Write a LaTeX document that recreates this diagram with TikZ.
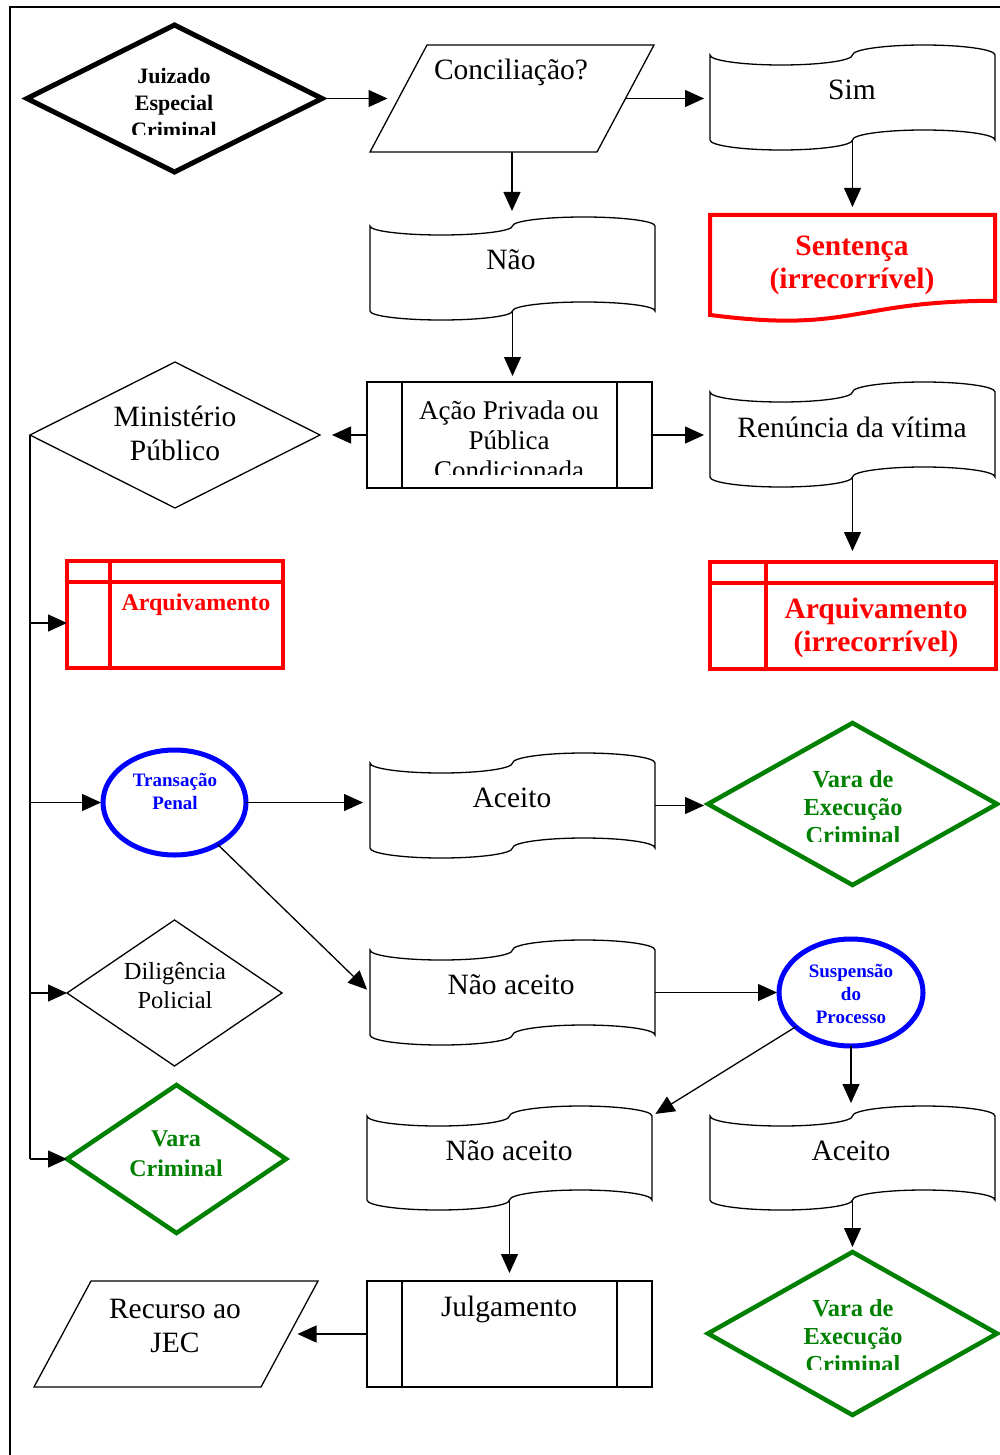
\documentclass[tikz,border=0pt]{standalone}
\usepackage{fontspec}
\setmainfont{Liberation Serif}
\usetikzlibrary{arrows.meta,shapes.geometric,calc}

\definecolor{flowred}{RGB}{255,0,0}
\definecolor{flowblue}{RGB}{0,0,255}
\definecolor{flowgreen}{RGB}{0,128,0}

\tikzset{
  every node/.style={inner sep=0pt, outer sep=0pt},
  thinline/.style={line width=1.3pt},
  box/.style={rectangle, draw=none},
  arr/.style={thinline, -{Triangle[length=19pt,width=17pt]}},
  procbox/.style={rectangle, draw, thinline},
  storebox/.style={rectangle, draw=flowred, line width=4pt},
  plaindiamond/.style={diamond, draw, thinline},
  greendiamond/.style={diamond, draw=flowgreen, line width=4.5pt},
  blueoval/.style={ellipse, draw=flowblue, line width=5pt},
  txt/.style={align=center, font=\fontsize{29.5}{34}\selectfont},
  txtsmall/.style={align=center, font=\fontsize{27}{30}\selectfont},
  txtdil/.style={align=center, font=\fontsize{24.5}{29}\selectfont},
  txtjuiz/.style={align=center, font=\fontsize{22}{27}\selectfont\bfseries},
  txtred/.style={align=center, text=flowred, font=\fontsize{29.5}{33}\selectfont\bfseries},
  txtredsmall/.style={align=center, text=flowred, font=\fontsize{24}{28}\selectfont\bfseries},
  txtblue/.style={align=center, text=flowblue, font=\fontsize{19}{23}\selectfont\bfseries},
  txtgreen/.style={align=center, text=flowgreen, font=\fontsize{24.4}{28}\selectfont\bfseries},
  txtgreenvc/.style={align=center, text=flowgreen, font=\fontsize{24}{30}\selectfont\bfseries},
}

% punched-tape outline drawn on the border of a named box node
\newcommand\tapeframe[3][thinline]{%
  \draw[#1] let \p1=(#2.north west), \p2=(#2.south east),
      \n1={(\x2-\x1)/4}, \n2={0.5523*(\x2-\x1)/4}, \n3={0.5523*#3} in
    (\x1,\y1)
    .. controls (\x1,\y1-\n3) and (\x1+\n1-\n2,\y1-#3) .. (\x1+\n1,\y1-#3)
    .. controls (\x1+\n1+\n2,\y1-#3) and (\x1+2*\n1,\y1-\n3) .. (\x1+2*\n1,\y1)
    .. controls (\x1+2*\n1,\y1+\n3) and (\x1+3*\n1-\n2,\y1+#3) .. (\x1+3*\n1,\y1+#3)
    .. controls (\x1+3*\n1+\n2,\y1+#3) and (\x2,\y1+\n3) .. (\x2,\y1)
    -- (\x2,\y2)
    .. controls (\x2,\y2+\n3) and (\x1+3*\n1+\n2,\y2+#3) .. (\x1+3*\n1,\y2+#3)
    .. controls (\x1+3*\n1-\n2,\y2+#3) and (\x1+2*\n1,\y2+\n3) .. (\x1+2*\n1,\y2)
    .. controls (\x1+2*\n1,\y2-\n3) and (\x1+\n1+\n2,\y2-#3) .. (\x1+\n1,\y2-#3)
    .. controls (\x1+\n1-\n2,\y2-#3) and (\x1,\y2-\n3) .. (\x1,\y2)
    -- cycle;}

% slanted data box (parallelogram) inside a named box node
\newcommand\paraframe[2]{%
  \draw[thinline] let \p1=(#1.north west), \p2=(#1.south east) in
    (\x1,\y2) -- (\x2-#2,\y2) -- (\x2,\y1) -- (\x1+#2,\y1) -- cycle;}

% document outline with a wavy bottom edge
\newcommand\docframe[2][thinline]{%
  \draw[#1] let \p1=(#2.north west), \p2=(#2.south east),
      \n1={\y1-\y2}, \n2={(\x1+\x2)/2} in
    (\x1,\y1) -- (\x2,\y1) -- (\x2,\y1-0.802*\n1)
    .. controls (\n2,\y1-0.802*\n1) and (\n2,\y1-1.1075*\n1) .. (\x1,\y1-0.934*\n1)
    -- cycle;}

% side bars of a predefined-process box
\newcommand\procbars[1]{%
  \draw[thinline] ($(#1.north west)+(35,0)$) -- ($(#1.south west)+(35,0)$)
                  ($(#1.north east)+(-35,0)$) -- ($(#1.south east)+(-35,0)$);}

% inner lines of an internal-storage box
\newcommand\storelines[2]{%
  \draw[draw=flowred, line width=4pt]
    ($(#1.north west)+(0,21)$) -- ($(#1.north east)+(0,21)$)
    ($(#1.north west)+(#2,0)$) -- ($(#1.south west)+(#2,0)$);}

\begin{document}
\begin{tikzpicture}[x=1pt, y=-1pt]
\useasboundingbox (0,0) rectangle (1000,1455);

% page frame
\draw[line width=2pt] (10,1455) -- (10,7) -- (1000,7);

% ---------- shapes ----------
\node[diamond, draw, line width=5pt, minimum width=295pt, minimum height=147pt] (juiz) at (174.5,98.5) {};
\node[box, minimum width=284pt, minimum height=107pt] (concil) at (512,98.5) {};
\paraframe{concil}{57}
\node[box, minimum width=285pt, minimum height=85pt] (sim) at (852.5,97.5) {};
\tapeframe{sim}{10}
\node[box, minimum width=285pt, minimum height=85pt] (nao) at (512.5,268.5) {};
\tapeframe{nao}{9}
\node[box, minimum width=285pt, minimum height=107pt] (sent) at (852.5,268.5) {};
\docframe[draw=flowred, line width=4pt]{sent}
\node[procbox, minimum width=285pt, minimum height=106pt] (acao) at (509.5,435) {};
\procbars{acao}
\node[plaindiamond, minimum width=290pt, minimum height=146pt] (mp) at (175,435) {};
\node[box, minimum width=285pt, minimum height=85pt] (ren) at (852.5,434.5) {};
\tapeframe{ren}{10}
\node[storebox, minimum width=216pt, minimum height=107pt] (arqL) at (175,614.5) {};
\storelines{arqL}{43}
\node[storebox, minimum width=286pt, minimum height=107pt] (arqR) at (853,615.5) {};
\storelines{arqR}{56}
\node[blueoval, minimum width=143pt, minimum height=105pt] (trans) at (174.5,802.5) {};
\node[box, minimum width=285pt, minimum height=85pt] (ac1) at (512.5,805.5) {};
\tapeframe{ac1}{10}
\node[greendiamond, minimum width=289pt, minimum height=162pt] (vec1) at (852.5,804) {};
\node[plaindiamond, minimum width=215pt, minimum height=146pt] (dil) at (174.5,993) {};
\node[box, minimum width=285pt, minimum height=85pt] (na1) at (512.5,992.5) {};
\tapeframe{na1}{10}
\node[blueoval, minimum width=144pt, minimum height=107pt] (susp) at (851,992.5) {};
\node[greendiamond, minimum width=219pt, minimum height=148pt] (vc) at (176.5,1159) {};
\node[box, minimum width=285pt, minimum height=84pt] (na2) at (509.5,1158) {};
\tapeframe{na2}{10}
\node[box, minimum width=285pt, minimum height=84pt] (ac2) at (852.5,1158) {};
\tapeframe{ac2}{10}
\node[procbox, minimum width=285pt, minimum height=106pt] (julg) at (509.5,1334) {};
\procbars{julg}
\node[box, minimum width=284pt, minimum height=106pt] (rec) at (176,1334) {};
\paraframe{rec}{57}
\node[greendiamond, minimum width=289pt, minimum height=163pt] (vec2) at (852.5,1333.5) {};

% ---------- texts ----------
\begin{scope}
  \clip (60,40) rectangle (290,135);
  \node[txtjuiz] (t-juiz) at (174,103) {Juizado\\Especial\\Criminal};
\end{scope}
\node[txt] (t-concil) at (511,72) {Conciliação?};
\node[txt] (t-sim) at (852,90) {Sim};
\node[txt] (t-nao) at (511,260) {Não};
\node[txtred] (t-sent) at (852,265) {Sentença\\(irrecorrível)};
\begin{scope}
  \clip (405,385) rectangle (615,474);
  \node[txtsmall] (t-acao) at (509,440) {Ação Privada ou\\Pública\\Condicionada};
\end{scope}
\node[txt] (t-mp) at (175,433) {Ministério\\Público};
\node[txt] (t-ren) at (852,427) {Renúncia da vítima};
\node[txtredsmall] (t-arqL) at (196,605) {Arquivamento};
\node[txtred] (t-arqR) at (876,628) {Arquivamento\\(irrecorrível)};
\node[txtblue] (t-trans) at (175,791) {Transação\\Penal};
\node[txt] (t-ac1) at (512,798) {Aceito};
\begin{scope}
  \clip (760,740) rectangle (950,841);
  \node[txtgreen] (t-vec1) at (853,807) {Vara de\\Execução\\Criminal};
\end{scope}
\node[txtdil] (t-dil) at (175,986) {Diligência\\Policial};
\node[txt] (t-na1) at (511,985) {Não aceito};
\node[txtblue] (t-susp) at (851,993.5) {Suspensão\\do\\Processo};
\node[txtgreenvc] (t-vc) at (176,1154) {Vara\\Criminal};
\node[txt] (t-na2) at (509,1151) {Não aceito};
\node[txt] (t-ac2) at (851,1151) {Aceito};
\node[txt] (t-julg) at (509,1309.5) {Julgamento};
\node[txt] (t-rec) at (175,1326) {Recurso ao\\JEC};
\begin{scope}
  \clip (760,1270) rectangle (950,1369);
  \node[txtgreen] (t-vec2) at (853,1336) {Vara de\\Execução\\Criminal};
\end{scope}

% ---------- connectors ----------
\coordinate (concil-w) at ($(concil.west)+(28.5,0)$);
\coordinate (concil-e) at ($(concil.east)+(-28.5,0)$);
\coordinate (rec-e) at ($(rec.east)+(-28.5,0)$);
\coordinate (arqL-in) at ($(arqL.west)+(0,8.5)$);

\draw[arr, shorten >=11pt] (juiz.east) -- (concil-w);
\draw[arr, shorten >=6pt] (concil-e) -- (concil-e -| sim.west);
\draw[arr, shorten >=15pt] (concil.south) -- (concil.south |- nao.north);
\draw[arr, shorten >=6pt] (nao.south) -- (nao.south |- acao.north);
\draw[arr, shorten >=8pt] (sim.south) -- (sent.north);
\draw[arr, shorten >=12pt] (acao.west) -- (mp.east);
\draw[arr, shorten >=6pt] (acao.east) -- (acao.east -| ren.west);
\draw[arr, shorten >=11pt] (ren.south) -- (ren.south |- arqR.north);

\draw[thinline] (mp.west) -- (mp.west |- vc.west);
\draw[arr] (mp.west |- arqL-in) -- (arqL-in);
\draw[arr, shorten >=2pt] (mp.west |- trans.west) -- (trans.west);
\draw[arr] (mp.west |- dil.west) -- (dil.west);
\draw[arr] (mp.west |- vc.west) -- (vc.west);

\draw[arr, shorten >=7pt] (trans.east) -- (trans.east -| ac1.west);
\draw[arr, shorten >=4pt] (ac1.east) -- (ac1.east -| vec1.west);
\draw[arr, shorten >=4pt] (trans) -- (na1.west);
\draw[arr, shorten >=2pt] (na1.east) -- (na1.east -| susp.west);
\draw[arr, shorten >=4pt] (susp) -- (na2.north east);
\draw[arr, shorten >=13pt] (susp.south) -- (susp.south |- ac2.north);
\draw[arr, shorten >=5pt] (ac2.south) -- (ac2.south |- vec2.north);
\draw[arr, shorten >=8pt] (na2.south) -- (na2.south |- julg.north);
\draw[arr, shorten >=8pt] (julg.west) -- (rec-e);
\end{tikzpicture}
\end{document}
